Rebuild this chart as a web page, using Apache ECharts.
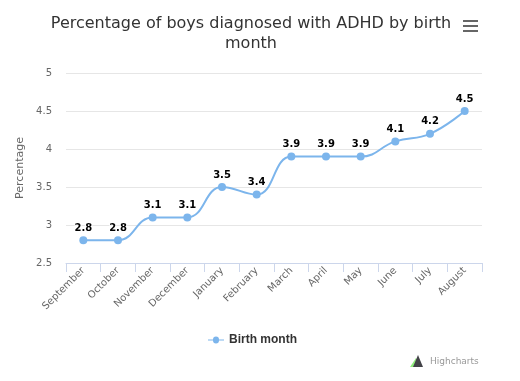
<!DOCTYPE html>
<html><head><meta charset="utf-8">
<script src="https://cdn.jsdelivr.net/npm/echarts@6/dist/echarts.min.js"></script>
<style>html,body{margin:0;padding:0;background:#fff}#c{width:520px;height:381px}</style>
</head><body><div id="c"></div>
<script>
const titleText = 'Percentage of boys diagnosed with ADHD by birth\nmonth';
const categories = ['September','October','November','December','January','February','March','April','May','June','July','August'];
const values = [2.8, 2.8, 3.1, 3.1, 3.5, 3.4, 3.9, 3.9, 3.9, 4.1, 4.2, 4.5];
const seriesName = 'Birth month';
const yAxisTitle = 'Percentage';
const creditText = 'Highcharts';

const font = '"DejaVu Sans", Verdana, sans-serif';
const chart = echarts.init(document.getElementById('c'));
chart.setOption({
  animation: false,
  textStyle: {fontFamily: font},
  title: {
    text: titleText, left: 246, top: 9, textAlign: 'center',
    textStyle: {fontFamily: font, fontSize: 16, fontWeight: 'normal', color: '#333', lineHeight: 20}
  },
  grid: {left: 66, right: 38, top: 73, bottom: 118},
  legend: {
    bottom: 30, left: 203, itemWidth: 16, itemHeight: 8, itemGap: 5,
    icon: 'path://M0,3.5L5,3.5A3,3 0 1 1 11,3.5L16,3.5L16,4.5L11,4.5A3,3 0 1 1 5,4.5L0,4.5Z',
    textStyle: {fontFamily: '"Liberation Sans", Arial, sans-serif', fontSize: 12, fontWeight: 'bold', color: '#333'},
    data: [seriesName]
  },
  xAxis: {
    type: 'category', data: categories, boundaryGap: true,
    axisLine: {lineStyle: {color: '#ccd6eb'}},
    axisTick: {show: true, length: 9, lineStyle: {color: '#ccd6eb'}},
    axisLabel: {rotate: 45, interval: 0, color: '#666', fontSize: 10, margin: 6, fontFamily: font}
  },
  yAxis: {
    type: 'value', min: 2.5, max: 5, interval: 0.5,
    name: yAxisTitle, nameLocation: 'middle', nameGap: 36,
    nameTextStyle: {color: '#666', fontSize: 11, fontFamily: font},
    axisLine: {show: false}, axisTick: {show: false},
    axisLabel: {color: '#666', fontSize: 10, margin: 14, fontFamily: font},
    splitLine: {lineStyle: {color: '#e6e6e6'}}
  },
  series: [{
    name: seriesName, type: 'line', data: values, smooth: 0.45,
    symbol: 'circle', symbolSize: 8,
    itemStyle: {color: '#7cb5ec'},
    lineStyle: {color: '#7cb5ec', width: 2},
    label: {show: true, position: 'top', distance: 3, fontSize: 10, fontWeight: 'bold', color: '#000', fontFamily: font,
      textBorderColor: '#fff', textBorderWidth: 2}
  }],
  graphic: [
    {type: 'rect', shape: {x: 463, y: 20, width: 15, height: 2}, style: {fill: '#666'}},
    {type: 'rect', shape: {x: 463, y: 25, width: 15, height: 2}, style: {fill: '#666'}},
    {type: 'rect', shape: {x: 463, y: 30, width: 15, height: 2}, style: {fill: '#666'}},
    {type: 'polygon', shape: {points: [[410,367],[416,358],[420,367]]}, style: {fill: '#90ed7d'}},
    {type: 'polygon', shape: {points: [[413,367],[418,355],[423,367]]}, style: {fill: '#434348'}},
    {type: 'text', left: 430, top: 357, style: {text: creditText, fill: '#999', fontSize: 9, fontFamily: font}}
  ]
});
</script></body></html>
